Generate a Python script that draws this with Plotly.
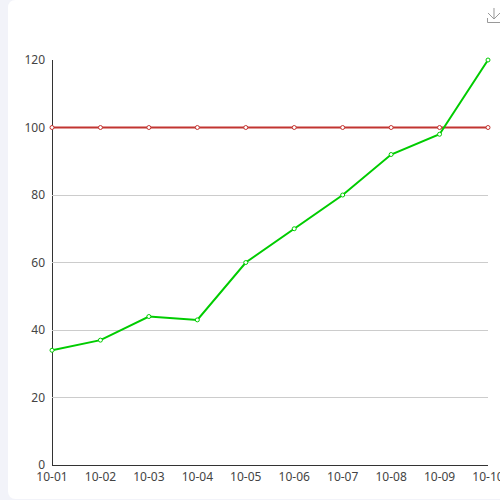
import plotly.graph_objects as go

dates = ['10-01', '10-02', '10-03', '10-04', '10-05', '10-06', '10-07', '10-08', '10-09', '10-10']
limit_values = [100, 100, 100, 100, 100, 100, 100, 100, 100, 100]
actual_values = [34, 37, 44, 43, 60, 70, 80, 92, 98, 120]
y_ticks = [0, 20, 40, 60, 80, 100, 120]

W, H = 500, 500
LEFT, RIGHT, TOP, BOTTOM = 52, 488, 60, 465


def px(x):
    return (x - LEFT) / (RIGHT - LEFT)


def py(y):
    return (BOTTOM - y) / (BOTTOM - TOP)


def page_path(points):
    return 'M ' + ' L '.join(f'{px(x):.5f} {py(y):.5f}' for x, y in points)


# white card with rounded left corners on the pale page background
card = (f'M {px(16):.5f} {py(0):.5f} L {px(500):.5f} {py(0):.5f} L {px(500):.5f} {py(499):.5f} '
        f'L {px(16):.5f} {py(499):.5f} Q {px(8):.5f} {py(499):.5f} {px(8):.5f} {py(491):.5f} '
        f'L {px(8):.5f} {py(8):.5f} Q {px(8):.5f} {py(0):.5f} {px(16):.5f} {py(0):.5f} Z')

fig = go.Figure()
fig.add_trace(go.Scatter(x=dates, y=limit_values, mode='lines+markers', cliponaxis=False,
                         line=dict(color='#c23531', width=2),
                         marker=dict(symbol='circle', size=4, color='white',
                                     line=dict(color='#c23531', width=1))))
fig.add_trace(go.Scatter(x=dates, y=actual_values, mode='lines+markers', cliponaxis=False,
                         line=dict(color='#00cc00', width=2),
                         marker=dict(symbol='circle', size=4, color='white',
                                     line=dict(color='#00cc00', width=1))))

icon_style = dict(type='path', xref='paper', yref='paper', line=dict(color='#999999', width=1), layer='above')

fig.update_layout(
    width=W, height=H,
    margin=dict(l=LEFT, r=W - RIGHT, t=TOP, b=H - BOTTOM, pad=0),
    paper_bgcolor='#f2f3f9',
    plot_bgcolor='rgba(0,0,0,0)',
    showlegend=False,
    font=dict(family='Noto Sans, Liberation Sans, sans-serif', size=12, color='#444444'),
    shapes=[
        dict(type='path', xref='paper', yref='paper', path=card, fillcolor='white',
             line=dict(width=0), layer='below'),
        # y axis line sits on the first category, not just left of it
        dict(type='line', xref='paper', yref='paper', x0=px(52.5), x1=px(52.5), y0=py(60), y1=py(465),
             line=dict(color='#333333', width=1), layer='below'),
        dict(path=page_path([(487.5, 18), (487.5, 22.5), (500, 22.5)]), **icon_style),
        dict(path=page_path([(494, 8), (494, 19)]), **icon_style),
        dict(path=page_path([(488, 13), (494, 19), (500, 13)]), **icon_style),
    ],
)
fig.update_xaxes(type='category', range=[0, 9], showgrid=False, showline=True, linecolor='#333333',
                 linewidth=1, ticks='', tickangle=0, ticklabelstandoff=1,
                 tickfont=dict(size=12, color='#444444'), automargin=False, zeroline=False)
fig.update_yaxes(range=[0, 120], tickvals=y_ticks, showgrid=True, gridcolor='#cccccc', gridwidth=1,
                 showline=False, ticks='', ticklabelstandoff=6,
                 tickfont=dict(size=12, color='#444444'), automargin=False, zeroline=False)

fig.write_html('out.html', post_script="document.body.style.margin='0';",
               config=dict(displayModeBar=False))
